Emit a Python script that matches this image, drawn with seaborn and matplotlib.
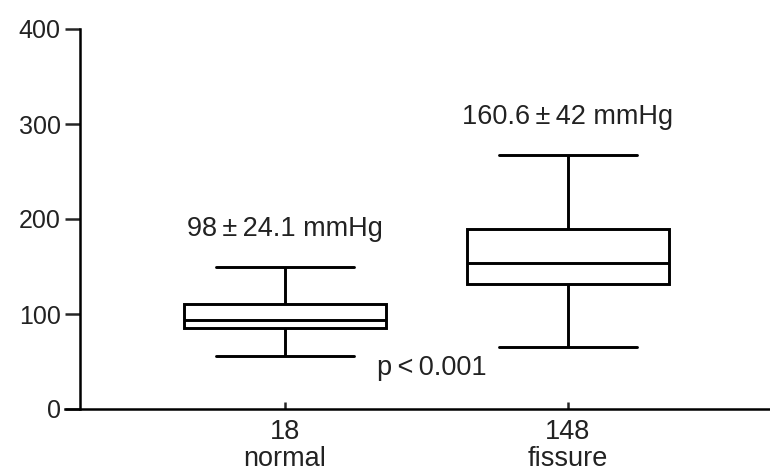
import pandas as pd
import matplotlib
matplotlib.use("Agg")
import matplotlib.pyplot as plt
import seaborn as sns

# five-number summaries (min, q1, median, q3, max)
groups = ["normal", "fissure"]
counts = [18, 148]
normal_vals = [56, 85, 94, 111, 150]
fissure_vals = [65, 132, 154, 190, 267]
labels = ["98\u2009\u00b1\u200924.1 mmHg", "160.6\u2009\u00b1\u200942 mmHg"]
label_y = [190, 307]
p_text = "p\u2009<\u20090.001"
yticks = [0, 100, 200, 300, 400]

df = pd.DataFrame({
    "group": ["normal"] * len(normal_vals) + ["fissure"] * len(fissure_vals),
    "value": normal_vals + fissure_vals,
})

sns.set_style("white")
plt.rcParams["font.family"] = ["Liberation Sans", "DejaVu Sans"]
ink = "#222222"

fig = plt.figure(figsize=(7.7, 4.72), dpi=100)
ax = fig.add_axes([65 / 770, 1 - 409 / 472, 1 - 65 / 770, (409 - 29) / 472])

sns.boxplot(data=df, x="group", y="value", order=groups, whis=(0, 100),
            width=0.715, color="white", linecolor="black", linewidth=2.1,
            capwidths=0.49, ax=ax)

ax.set_xlim(-0.777, 1.714)
ax.set_ylim(0, 400)
ax.spines["left"].set_position(("data", -0.724))
for s in ["top", "right"]:
    ax.spines[s].set_visible(False)
for s in ["left", "bottom"]:
    ax.spines[s].set_linewidth(1.8)
    ax.spines[s].set_color("black")

ax.set_yticks(yticks)
ax.set_yticklabels([str(t) for t in yticks], fontsize=18, color=ink)
ax.tick_params(axis="y", direction="out", length=11, width=1.8, pad=3, left=True)
ax.set_xticks(range(len(groups)))
ax.set_xticklabels([f"{c}\n{g}" for c, g in zip(counts, groups)],
                   fontsize=19.5, color=ink, linespacing=1.05)
ax.tick_params(axis="x", direction="in", length=5, width=1.8, pad=7, bottom=True)
ax.set_xlabel("")
ax.set_ylabel("")

for i, (t, y) in enumerate(zip(labels, label_y)):
    ax.text(i, y, t, ha="center", va="center", fontsize=19.5, color=ink)
ax.text(0.52, 43, p_text, ha="center", va="center", fontsize=19.5, color=ink)

fig.savefig("out.png", dpi=100)
